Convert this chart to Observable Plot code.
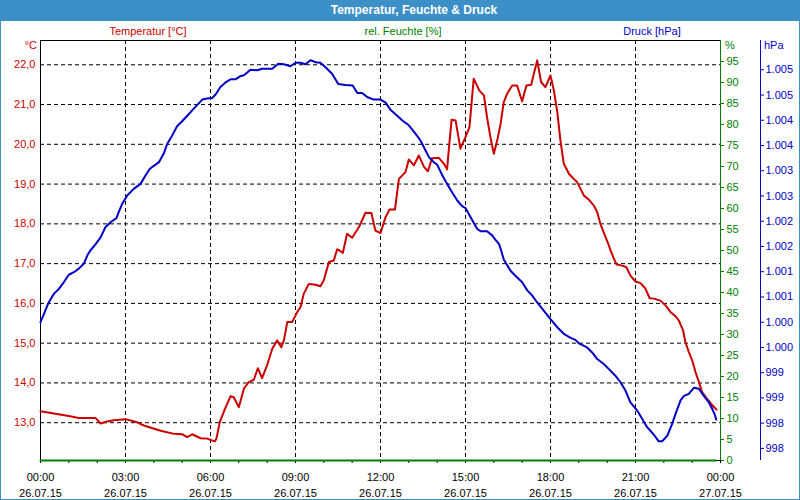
<!DOCTYPE html>
<html>
<head>
<meta charset="utf-8">
<script src="https://cdn.jsdelivr.net/npm/d3@7"></script>
<script src="https://cdn.jsdelivr.net/npm/@observablehq/plot@0.6"></script>
<style>
  html, body { margin: 0; padding: 0; background: #ffffff; }
  #chart { position: relative; width: 800px; height: 500px; overflow: hidden; background: #ffffff;
           font-family: "Liberation Sans", Arial, sans-serif; font-size: 11px; }
  #chart svg { position: absolute; left: 0; top: 0; }
  .lbl { position: absolute; white-space: nowrap; line-height: 14px; }
  #titlebar { position: absolute; left: 0; top: 0; width: 800px; height: 21px; background: #3d8fc7; }
  #title { position: absolute; top: 3px; left: 414px; transform: translateX(-50%); color: #ffffff;
           font-weight: bold; font-size: 12px; white-space: nowrap; line-height: 14px; }
  #border { position: absolute; left: 0; top: 0; width: 798px; height: 498px; border: 1px solid #3d8fc7; pointer-events: none; }
</style>
</head>
<body>
<div id="chart">
  <div id="titlebar"></div>
  <div id="title">Temperatur, Feuchte &amp; Druck</div>
  <div class="lbl" id="legT" style="left:148px; top:24px; transform:translateX(-50%); color:#cc0000;">Temperatur [°C]</div>
  <div class="lbl" id="legH" style="left:403px; top:24px; transform:translateX(-50%); color:#008000;">rel. Feuchte [%]</div>
  <div class="lbl" id="legP" style="left:652px; top:24px; transform:translateX(-50%); color:#0000c8;">Druck [hPa]</div>
  <div class="lbl" style="left:37px; top:38px; transform:translateX(-100%); color:#cc0000;">°C</div>
  <div class="lbl" style="left:725px; top:38px; color:#008000;">%</div>
  <div class="lbl" style="left:764px; top:38px; color:#0000c8;">hPa</div>
  <div id="border"></div>
</div>
<script>
// ---------- data ----------
const xDomain = [0, 24];
const tempDomain = [12.05, 22.61];
const humDomain = [0, 100];
const presDomain = [997.76, 1006.08];

const tempTicks = [13, 14, 15, 16, 17, 18, 19, 20, 21, 22];
const humTicks = [0, 5, 10, 15, 20, 25, 30, 35, 40, 45, 50, 55, 60, 65, 70, 75, 80, 85, 90, 95];
const presTicks = [998, 998.5, 999, 999.5, 1000, 1000.5, 1001, 1001.5, 1002, 1002.5, 1003, 1003.5, 1004, 1004.5, 1005, 1005.5];
const gridHours = [3, 6, 9, 12, 15, 18, 21];
const hourTicks = [0,1,2,3,4,5,6,7,8,9,10,11,12,13,14,15,16,17,18,19,20,21,22,23,24];
const xTickHours = [0, 3, 6, 9, 12, 15, 18, 21, 24];
const xTickLabels = ["00:00\n26.07.15", "03:00\n26.07.15", "06:00\n26.07.15", "09:00\n26.07.15",
  "12:00\n26.07.15", "15:00\n26.07.15", "18:00\n26.07.15", "21:00\n26.07.15", "00:00\n27.07.15"];

// Temperature [°C]
const tempHours = [0.00,0.47,1.00,1.35,1.94,2.12,2.35,2.59,3.00,3.41,3.65,4.24,4.71,5.00,5.18,5.35,5.65,5.88,6.15,6.21,
  6.33,6.51,6.71,6.82,7.00,7.18,7.35,7.53,7.67,7.82,8.00,8.18,8.35,8.50,8.59,8.71,8.88,9.06,9.18,9.29,
  9.47,9.71,9.88,10.00,10.18,10.35,10.47,10.55,10.67,10.82,11.00,11.24,11.47,11.68,11.82,12.00,12.18,12.32,12.51,12.65,
  12.88,13.00,13.18,13.35,13.53,13.67,13.82,14.06,14.24,14.35,14.44,14.51,14.65,14.82,15.00,15.14,15.29,15.49,15.65,15.76,
  15.88,16.00,16.12,16.24,16.35,16.47,16.65,16.82,17.00,17.15,17.32,17.41,17.53,17.67,17.82,18.00,18.12,18.24,18.35,18.47,
  18.65,18.82,18.94,19.06,19.18,19.35,19.53,19.65,19.76,19.94,20.06,20.12,20.24,20.33,20.53,20.68,20.82,21.00,21.18,21.35,
  21.50,21.65,21.88,22.06,22.24,22.41,22.53,22.68,22.76,22.88,23.00,23.12,23.24,23.35,23.53,23.71,23.86];
const tempValues = [13.29,13.23,13.17,13.12,13.12,12.98,13.03,13.06,13.09,13.01,12.93,12.80,12.72,12.71,12.64,12.71,12.61,12.60,12.53,12.60,
  13.02,13.35,13.67,13.64,13.39,13.86,14.02,14.08,14.37,14.12,14.45,14.86,15.07,14.90,15.07,15.53,15.53,15.78,15.91,16.24,
  16.49,16.47,16.43,16.58,17.04,17.08,17.36,17.33,17.27,17.75,17.65,17.92,18.28,18.27,17.83,17.77,18.17,18.36,18.36,19.13,
  19.30,19.62,19.47,19.72,19.44,19.32,19.65,19.66,19.51,19.37,20.10,20.62,20.60,19.89,20.18,20.43,21.65,21.35,21.23,20.68,
  20.18,19.76,20.10,20.52,21.06,21.27,21.48,21.48,21.08,21.48,21.50,21.77,22.11,21.56,21.44,21.73,21.35,20.81,20.10,19.51,
  19.26,19.13,19.05,18.88,18.71,18.61,18.46,18.29,18.00,17.67,17.46,17.33,17.12,16.98,16.95,16.91,16.70,16.55,16.51,16.37,
  16.13,16.12,16.07,15.95,15.78,15.68,15.57,15.32,15.03,14.78,14.57,14.27,14.02,13.77,13.60,13.44,13.33];

// Pressure [hPa]
const presHours = [0.00,0.12,0.24,0.33,0.47,0.65,0.82,1.00,1.18,1.35,1.53,1.65,1.76,1.94,2.12,2.29,2.47,2.68,2.76,2.88,
  3.06,3.29,3.53,3.71,3.86,4.06,4.18,4.35,4.47,4.65,4.82,5.00,5.18,5.41,5.71,5.88,6.06,6.18,6.35,6.53,
  6.71,6.88,7.04,7.18,7.41,7.65,7.82,8.00,8.18,8.39,8.59,8.82,9.00,9.18,9.35,9.53,9.71,9.88,10.06,10.29,
  10.51,10.76,11.02,11.18,11.35,11.53,11.76,12.00,12.18,12.35,12.59,12.76,13.00,13.24,13.41,13.59,13.71,13.88,14.00,14.18,
  14.35,14.53,14.71,14.88,15.00,15.18,15.41,15.53,15.76,15.94,16.06,16.18,16.26,16.35,16.59,16.76,17.00,17.18,17.35,17.53,
  17.76,18.00,18.24,18.47,18.71,18.88,19.00,19.29,19.47,19.65,19.88,20.06,20.29,20.47,20.65,20.82,21.06,21.24,21.41,21.65,
  21.82,21.94,22.12,22.29,22.41,22.59,22.71,22.88,23.06,23.24,23.41,23.59,23.71,23.79,23.85];
const presValues = [1000.50,1000.66,1000.83,1000.93,1001.06,1001.16,1001.29,1001.44,1001.49,1001.56,1001.66,1001.82,1001.92,1002.04,1002.18,1002.38,1002.48,1002.56,1002.68,1002.84,
  1003.01,1003.14,1003.24,1003.41,1003.54,1003.62,1003.67,1003.84,1004.03,1004.20,1004.38,1004.48,1004.59,1004.73,1004.91,1004.93,1004.94,1005.01,1005.16,1005.25,
  1005.31,1005.31,1005.37,1005.39,1005.50,1005.49,1005.52,1005.52,1005.52,1005.62,1005.61,1005.57,1005.64,1005.64,1005.61,1005.69,1005.65,1005.64,1005.55,1005.42,
  1005.22,1005.20,1005.19,1005.04,1005.04,1004.96,1004.91,1004.91,1004.85,1004.71,1004.59,1004.50,1004.40,1004.23,1004.10,1003.90,1003.77,1003.67,1003.62,1003.41,
  1003.24,1003.07,1002.91,1002.80,1002.76,1002.58,1002.35,1002.30,1002.30,1002.22,1002.13,1002.05,1001.92,1001.74,1001.52,1001.42,1001.29,1001.13,1001.03,1000.89,
  1000.73,1000.56,1000.40,1000.27,1000.19,1000.15,1000.08,1000.00,999.90,999.77,999.67,999.57,999.44,999.31,999.14,998.91,998.75,998.58,998.42,998.27,
  998.14,998.14,998.25,998.48,998.68,998.95,999.04,999.08,999.20,999.18,999.04,998.91,998.78,998.68,998.57];

// Relative humidity [%] (sensor reports 0 all day)
const humHours = [0, 3, 6, 9, 12, 15, 18, 21, 23.85];
const humValues = [0, 0, 0, 0, 0, 0, 0, 0, 0];

// ---------- build ----------
const tempData = tempHours.map((h, i) => ({h, v: tempValues[i]}));
const presData = presHours.map((h, i) => ({h, v: presValues[i]}));
const humData = humHours.map((h, i) => ({h, v: humValues[i]}));

const RED = "#cc0000", GREEN = "#008000", BLUE = "#0000c8";
const common = {
  width: 800, height: 500,
  marginTop: 40, marginBottom: 40, marginLeft: 40, marginRight: 80,
  style: {fontFamily: '"Liberation Sans", Arial, sans-serif', fontSize: "11px", background: "transparent", overflow: "visible"}
};

const deFmt = d3.formatLocale({decimal: ",", thousands: ".", grouping: [3], currency: ["", "€"]});
const presFmt = deFmt.format(",d");

const chart = document.getElementById("chart");
const border = document.getElementById("border");

// Plot 1: temperature, grid, x axis
const p1 = Plot.plot({
  ...common,
  x: {domain: xDomain},
  y: {domain: tempDomain},
  marks: [
    Plot.ruleY(tempTicks, {stroke: "#000", strokeDasharray: "4,3", strokeWidth: 1}),
    Plot.ruleX(gridHours, {stroke: "#000", strokeDasharray: "4,3", strokeWidth: 1}),
    Plot.frame({stroke: "#000"}),
    Plot.axisY({anchor: "left", ticks: tempTicks, tickSize: 0, tickPadding: 5, label: null,
      tickFormat: d => d.toFixed(1).replace(".", ","), fill: RED}),
    Plot.axisX({anchor: "bottom", ticks: hourTicks, tickSize: 3, tickFormat: () => "", label: null, stroke: "#000"}),
    Plot.axisX({anchor: "bottom", ticks: xTickHours, tickSize: 0, tickPadding: 9, label: null, lineHeight: 1.45,
      tickFormat: d => xTickLabels[xTickHours.indexOf(d)], fill: "#000"}),
    Plot.line(tempData, {x: "h", y: "v", stroke: RED, strokeWidth: 2})
  ]
});
chart.insertBefore(p1, border);

// Plot 2: humidity (right axis at frame edge)
const p2 = Plot.plot({
  ...common,
  x: {domain: xDomain, axis: null},
  y: {domain: humDomain},
  marks: [
    Plot.ruleX([xDomain[1]], {stroke: GREEN, strokeWidth: 1}),
    Plot.axisY({anchor: "right", ticks: humTicks, tickSize: 3, tickPadding: 3, label: null,
      tickFormat: d => String(d), fill: GREEN, stroke: GREEN}),
    Plot.line(humData, {x: "h", y: "v", stroke: GREEN, strokeWidth: 2})
  ]
});
chart.insertBefore(p2, border);

// Plot 3: pressure (outer right axis)
const p3 = Plot.plot({
  ...common,
  x: {domain: xDomain, axis: null},
  y: {domain: presDomain},
  marks: [
    Plot.ruleX([xDomain[1]], {dx: 40, stroke: BLUE, strokeWidth: 1}),
    Plot.axisY({anchor: "right", dx: 40, ticks: presTicks, tickSize: 3, tickPadding: 2, label: null,
      tickFormat: d => presFmt(Math.floor(d)), fill: BLUE, stroke: BLUE}),
    Plot.line(presData, {x: "h", y: "v", stroke: BLUE, strokeWidth: 2})
  ]
});
chart.insertBefore(p3, border);
</script>
</body>
</html>
